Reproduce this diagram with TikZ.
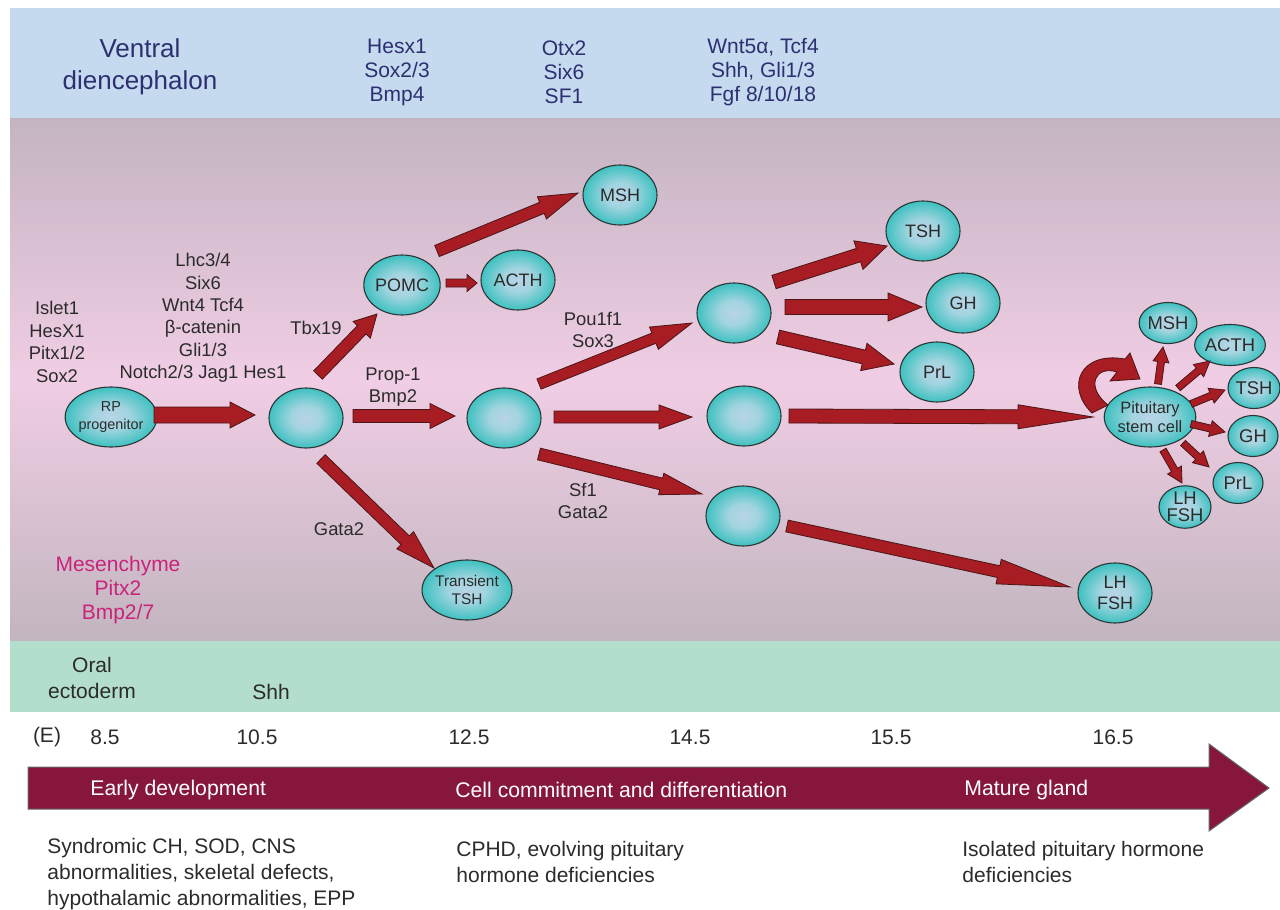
\documentclass[tikz,border=0pt]{standalone}
\usepackage{fontspec}
\setmainfont{Liberation Sans}
\usetikzlibrary{shapes.geometric,calc}
\definecolor{bandblue}{HTML}{C5D9EF}
\definecolor{bandgreen}{HTML}{B3DECB}
\definecolor{mtop}{HTML}{C4B4C2}
\definecolor{mmid}{HTML}{F0CDE4}
\definecolor{mbot}{HTML}{C2B5BF}
\definecolor{arrred}{HTML}{A81C24}
\definecolor{arredge}{HTML}{4A1616}
\definecolor{tlred}{HTML}{86163C}
\definecolor{cellin}{HTML}{B8D4E6}
\definecolor{cellmid}{HTML}{A2D4E0}
\definecolor{cellout}{HTML}{3EC1C0}
\definecolor{celledge}{HTML}{2C3636}
\definecolor{txt}{HTML}{2B2B2B}
\definecolor{navy}{HTML}{2D2F70}
\definecolor{mag}{HTML}{C8247C}
\pgfdeclareradialshading{cellshade}{\pgfpoint{0bp}{0bp}}{color(0bp)=(cellin); color(10bp)=(cellmid); color(25bp)=(cellout); color(50bp)=(cellout)}
\newcommand\barrow[6][]{%
  \pgfmathsetmacro\bw{#4*0.5}\pgfmathsetmacro\bhw{#5*0.5}\pgfmathsetmacro\bl{#6*0.5}%
  \coordinate (ba) at #2; \coordinate (bb) at #3;
  \coordinate (bh) at ($(bb)!\bl pt!(ba)$);
  \filldraw[redarr,#1] ($(ba)!\bw pt!90:(bb)$) -- ($(bh)!\bw pt!90:(bb)$) -- ($(bh)!\bhw pt!90:(bb)$) -- (bb)
    -- ($(bh)!\bhw pt!-90:(bb)$) -- ($(bh)!\bw pt!-90:(bb)$) -- ($(ba)!\bw pt!-90:(bb)$) -- cycle;}
\tikzset{
  cell/.style={ellipse, draw=celledge, line width=0.55pt, inner sep=0pt, minimum width=37pt, minimum height=30pt,
    shade, shading=cellshade, text=txt, font=\fontsize{9}{10}\selectfont, align=center},
  smallcell/.style={cell, minimum width=25pt, minimum height=20.5pt, font=\fontsize{9.2}{8.6}\selectfont},
  redarr/.style={fill=arrred, draw=arredge, line width=0.4pt, line join=miter},
  lbl/.style={text=txt, align=center, inner sep=0pt, font=\fontsize{9.2}{11.2}\selectfont},
  toplbl/.style={text=navy, align=center, inner sep=0pt, font=\fontsize{10.5}{12}\selectfont},
  plain/.style={text=txt, inner sep=0pt, font=\fontsize{10.5}{12.8}\selectfont},
  tltext/.style={text=white, anchor=west, inner sep=0pt, font=\fontsize{10.6}{12}\selectfont}
}
\begin{document}
\begin{tikzpicture}[x=0.5pt,y=-0.5pt]
\useasboundingbox (0,0) rectangle (1280,910);
% bands
\fill[bandblue] (10,8) rectangle (1280,118);
\shade[top color=mtop, bottom color=mbot, middle color=mmid] (10,118) rectangle (1280,641);
\fill[bandgreen] (10,641) rectangle (1280,712);
% top band text
\node[toplbl, font=\fontsize{13}{16}\selectfont] (vd) at (140,67) {Ventral\\diencephalon};
\node[toplbl] (g1) at (397,72) {Hesx1\\Sox2/3\\Bmp4};
\node[toplbl] (g2) at (564,72) {Otx2\\Six6\\SF1};
\node[toplbl] (g3) at (763,72) {Wnt5α, Tcf4\\Shh, Gli1/3\\Fgf 8/10/18};
% labels
\node[lbl, font=\fontsize{9.2}{11.4}\selectfont] (islet) at (57,342) {Islet1\\HesX1\\Pitx1/2\\Sox2};
\node[lbl] (lhc) at (203,318) {Lhc3/4\\Six6\\Wnt4 Tcf4\\β-catenin\\Gli1/3\\Notch2/3 Jag1 Hes1};
\node[lbl] (tbx) at (316,328) {Tbx19};
\node[lbl] (prop) at (393,387) {Prop-1\\Bmp2};
\node[lbl] (pou) at (593,330) {Pou1f1\\Sox3};
\node[lbl] (sf1) at (583,501) {Sf1\\Gata2};
\node[lbl] (gata) at (339,529) {Gata2};
\node[lbl, text=mag, font=\fontsize{10.5}{12.2}\selectfont] (mes) at (118,590) {Mesenchyme\\Pitx2\\Bmp2/7};
% cells
\node[cell, font=\fontsize{7.2}{9}\selectfont] (rp) at (111,417) {RP\\progenitor};
\node[cell] (n1) at (306,418) {};
\node[cell] (pomc) at (402,285) {POMC};
\node[cell] (acth) at (518,280) {ACTH};
\node[cell] (msh) at (620,195) {MSH};
\node[cell] (n2) at (504,418) {};
\node[cell, font=\fontsize{7.7}{9.3}\selectfont] (tt) at (467,590) {Transient\\TSH};
\node[cell] (n3) at (734,313) {};
\node[cell] (n4) at (744,416) {};
\node[cell] (n5) at (743,516) {};
\node[cell] (tsh) at (923,231) {TSH};
\node[cell] (gh) at (963,303) {GH};
\node[cell] (prl) at (937,372) {PrL};
\node[cell, font=\fontsize{9}{10.5}\selectfont] (lh) at (1115,593) {LH\\FSH};
\node[cell, font=\fontsize{8.2}{9.5}\selectfont] (stem) at (1150,417) {Pituitary\\stem cell};
\node[smallcell] (smsh) at (1168,323) {MSH};
\node[smallcell] (sacth) at (1230,345) {ACTH};
\node[smallcell] (stsh) at (1254,388) {TSH};
\node[smallcell] (sgh) at (1253,436) {GH};
\node[smallcell] (sprl) at (1238,483) {PrL};
\node[smallcell] (slh) at (1185,507) {LH\\FSH};
% arrows
\barrow{($(rp)+(43,-2)$)}{($(n1)+(-51,-3)$)}{8}{13}{25}
\barrow{($(n1)+(47,-2)$)}{($(n2)+(-49,-2)$)}{6.5}{12.5}{25}
\barrow{($(n1)+(12,-43)$)}{($(pomc)+(-25,29)$)}{6}{12}{22}
\barrow{($(n1)+(15,41)$)}{($(tt)+(-33,-22)$)}{6}{12}{40}
\barrow{($(pomc)+(44,-2)$)}{($(acth)+(-41,3)$)}{4}{8.5}{10}
\barrow{($(pomc)+(35,-34)$)}{($(msh)+(-42,-2)$)}{6}{12}{39}
\barrow{($(n2)+(35,-34)$)}{($(n3)+(-42,10)$)}{5.5}{12}{41}
\barrow{($(n2)+(50,-1)$)}{($(n4)+(-52,1)$)}{6}{12}{33}
\barrow{($(n2)+(35,36)$)}{($(n5)+(-41,-22)$)}{6}{11}{42}
\barrow{($(n3)+(40,-31)$)}{($(tsh)+(-36,15)$)}{7}{15}{30}
\barrow{($(n3)+(51,-6)$)}{($(gh)+(-41,4)$)}{7.5}{14}{34}
\barrow{($(n3)+(44,24)$)}{($(prl)+(-43,-8)$)}{7}{14}{31}
\barrow{($(n4)+(45,0)$)}{($(stem)+(-57,0)$)}{7}{12}{75}
\barrow{($(n5)+(44,10)$)}{($(lh)+(-45,-6)$)}{6}{12.5}{73}
\barrow{($(stem)+(8,-33)$)}{($(smsh)+(-5,24)$)}{3.5}{8}{15}
\barrow{($(stem)+(28,-29)$)}{($(sacth)+(-20,16)$)}{3.5}{8}{15}
\barrow{($(stem)+(41,-13)$)}{($(stsh)+(-29,2)$)}{3.5}{8}{15}
\barrow{($(stem)+(41,7)$)}{($(sgh)+(-28,-4)$)}{3.5}{8}{15}
\barrow{($(stem)+(33,26)$)}{($(sprl)+(-29,-16)$)}{3.5}{8}{15}
\barrow{($(stem)+(13,33)$)}{($(slh)+(-3,-24)$)}{3.5}{8}{15}
% self-renewal loop
\begin{scope}[shift={(stem)}]
\filldraw[redarr] (-58,-4) .. controls (-85,-30) and (-70,-66) .. (-25,-58)
  -- (-20,-64) -- (-10,-38) -- (-40,-36) -- (-33,-45)
  .. controls (-55,-52) and (-65,-30) .. (-42,-12) -- cycle;
\end{scope}
% green band text
\node[plain, align=center] (oral) at (92,678) {Oral\\ectoderm};
\node[plain] (shh) at (271,692) {Shh};
% timeline numbers
\node[plain] (e) at (47,737) {(E)};
\node[plain] (t1) at (105,737) {8.5};
\node[plain] (t2) at (257,737) {10.5};
\node[plain] (t3) at (469,737) {12.5};
\node[plain] (t4) at (690,737) {14.5};
\node[plain] (t5) at (891,737) {15.5};
\node[plain] (t6) at (1113,737) {16.5};
% timeline arrow
\filldraw[fill=tlred, draw=black!60, line width=0.5pt] (28,767) -- (1209,767) -- (1209,744) -- (1269,788) -- (1209,831) -- (1209,809) -- (28,809) -- cycle;
\node[tltext] (p1) at (90,790) {Early development};
\node[tltext] (p2) at (455,790) {Cell commitment and differentiation};
\node[tltext] (p3) at (964,790) {Mature gland};
% bottom text
\node[plain, anchor=west, align=left] (d1) at (47,874) {Syndromic CH, SOD, CNS\\abnormalities, skeletal defects,\\hypothalamic abnormalities, EPP};
\node[plain, anchor=west, align=left] (d2) at (456,862) {CPHD, evolving pituitary\\hormone deficiencies};
\node[plain, anchor=west, align=left] (d3) at (962,862) {Isolated pituitary hormone\\deficiencies};
\end{tikzpicture}
\end{document}
